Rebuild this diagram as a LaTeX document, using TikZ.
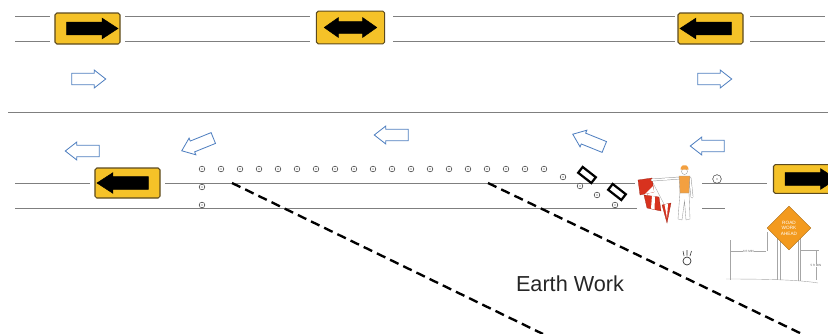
\documentclass[tikz,border=0pt]{standalone}
\usepackage{fontspec}
\setmainfont{Liberation Sans}
\usetikzlibrary{shapes.arrows,shapes.geometric}

\definecolor{signyellow}{HTML}{F5C228}
\definecolor{signedge}{HTML}{5C4A1E}
\definecolor{flowblue}{HTML}{4F7FC0}
\definecolor{roadgray}{HTML}{7F7F7F}
\definecolor{diamondorange}{HTML}{F39A1E}
\definecolor{flagred}{HTML}{D8321E}
\definecolor{vestorange}{HTML}{F3A040}

\tikzset{
  road/.style={draw=roadgray, line width=0.6pt},
  yellowsign/.style={rectangle, rounded corners=1.5pt, draw=signedge, fill=signyellow, line width=0.9pt,
    minimum width=1.95cm, minimum height=0.93cm, inner sep=0pt},
  signarrow/.style={single arrow, fill=black, draw=black, line width=0.4pt, minimum height=1.54cm,
    minimum width=0.62cm, inner sep=0.15cm, single arrow tip angle=66, single arrow head extend=0.1cm},
  bothways/.style={double arrow, fill=black, draw=black, line width=0.4pt, minimum height=1.58cm,
    minimum width=0.6cm, inner sep=0.13cm, double arrow tip angle=70, double arrow head extend=0.1cm},
  flow/.style={single arrow, draw=flowblue, fill=white, line width=0.7pt, minimum height=1.02cm,
    minimum width=0.54cm, inner sep=0.135cm, single arrow tip angle=76, single arrow head extend=0.08cm},
  cone/.style={circle, draw=black!75, fill=white, line width=0.45pt, minimum size=0.17cm, inner sep=0pt},
  barricade/.style={rectangle, draw=black, fill=white, line width=1.9pt, minimum width=0.5cm,
    minimum height=0.22cm, inner sep=0pt},
  workline/.style={draw=black, line width=2pt, dash pattern=on 8pt off 4.5pt},
  dimline/.style={draw=gray!70, line width=0.35pt},
  tinytext/.style={font=\fontsize{2.6}{3}\selectfont, text=gray!80!black, fill=white, inner sep=0.4pt},
}

\begin{document}
\begin{tikzpicture}[x=0.03cm, y=-0.03cm]
    \useasboundingbox (0,0) rectangle (828,334);
    \clip (0,0) rectangle (828,334);

    % lane lines
    \foreach \y in {16,41} {
        \draw[road] (15,\y) -- (50,\y);
        \draw[road] (125,\y) -- (310,\y);
        \draw[road] (393,\y) -- (675,\y);
        \draw[road] (750,\y) -- (825,\y);
    }
    \draw[road] (8,112) -- (828,112);
    \draw[road] (15,183) -- (90,183);
    \draw[road] (165,183) -- (635,183);
    \draw[road] (702,183) -- (767,183);
    \draw[road] (15,208) -- (637,208);
    \draw[road] (702,208) -- (725,208);

    % work zone edges
    \coordinate (w1a) at (232,183);
    \coordinate (w1b) at (543,334);
    \coordinate (w2a) at (488,183);
    \coordinate (w2b) at (802,334);
    \draw[workline] (w1a) -- (w1b);
    \draw[workline] (w2a) -- (w2b);
    \node[font=\fontsize{18.5}{22}\selectfont, text=black!85] (earth) at (570,284) {Earth Work};

    % arrow boards
    \node[yellowsign] (s1) at (87.5,28.5) {};
    \node[signarrow] (a1) at (s1) {};
    \node[yellowsign, minimum width=2.05cm, minimum height=0.98cm] (s2) at (350.5,27.5) {};
    \node[bothways] (a2) at (s2) {};
    \node[yellowsign] (s3) at (710.5,28.5) {};
    \node[signarrow, rotate=180] (a3) at (s3) {};
    \node[yellowsign, minimum height=0.9cm] (s4) at (127.5,183) {};
    \node[signarrow, rotate=180] (a4) at (s4) {};
    \node[yellowsign, minimum height=0.86cm] (s5) at (806,179) {};
    \node[signarrow] (a5) at (s5) {};

    % traffic flow
    \node[flow] (f1) at (85,79) {};
    \node[flow] (f2) at (711,79) {};
    \node[flow, rotate=180] (f3) at (86,151) {};
    \node[flow, rotate=202] (f4) at (201,143) {};
    \node[flow, rotate=180] (f5) at (395,135) {};
    \node[flow, rotate=158] (f6) at (592,142) {};
    \node[flow, rotate=180] (f7) at (711,146) {};

    % channelizing devices
    \foreach \i in {0,...,18} {
        \node[cone] (r\i) at ({202+19*\i},169) {};
        \fill[black!75] (r\i) circle (0.5pt);
    }
    \foreach \p [count=\i] in {(202,187),(202,205),(563,177),(580,186),(597,195),(615,205)} {
        \node[cone] (t\i) at \p {};
        \fill[black!75] (t\i) circle (0.5pt);
    }
    \node[cone, minimum size=0.26cm] (beacon) at (717,179) {};
    \fill[black!75] (beacon) circle (0.6pt);
    \node[barricade, rotate=-38] (b1) at (587,175) {};
    \node[barricade, rotate=-38] (b2) at (617,192) {};

    % flagger
    \draw[gray!70, line width=0.3pt] (652,181) -- (647,196) (652,181) -- (664,204);
    \filldraw[fill=flagred, draw=flagred!70!black, line width=0.2pt] (638,180) -- (652,178) -- (654,192) -- (640,195) -- cycle;
    \fill[white] (645,194) -- (654,192) -- (653,186) -- cycle;
    \filldraw[fill=flagred, draw=flagred!70!black, line width=0.2pt] (644,195) -- (659,197) -- (661,211) -- (647,208) -- cycle;
    \fill[white] (652,196) -- (655,196.5) -- (654.5,209.5) -- (651,208.5) -- cycle;
    \filldraw[fill=flagred, draw=flagred!70!black, line width=0.2pt] (662,205) -- (671,203) -- (667,223) -- cycle;
    \fill[white] (664.5,204.5) -- (668,203.8) -- (667,218) -- cycle;
    \draw[gray!80, line width=2.2pt, line cap=round] (680,178) -- (652,180);
    \draw[white, line width=1.4pt, line cap=round] (680,178) -- (652,180);
    \filldraw[fill=white, draw=gray!80, line width=0.3pt]
        (680,192) -- (678,219) -- (682,220) -- (684.5,201) -- (686,220) -- (690,219) -- (689,192) -- cycle;
    \draw[gray!80, line width=2.2pt, line cap=round] (690,178) -- (692,197);
    \draw[white, line width=1.4pt, line cap=round] (690,178) -- (692,197);
    \filldraw[fill=vestorange, draw=gray!80, line width=0.3pt] (679,176) -- (690,176) -- (689,193) -- (680,193) -- cycle;
    \filldraw[fill=white, draw=gray!80, line width=0.3pt] (684.5,171.5) circle (3);
    \fill[vestorange] (680.5,169.5) -- (681,167) -- (682.8,165.3) -- (686.2,165.3) -- (688,167) -- (688.5,169.5) -- cycle;

    % warning light
    \node[circle, draw=black!80, line width=0.6pt, minimum size=0.24cm, inner sep=0pt] (lamp) at (687,261) {};
    \draw[black!80, line width=0.5pt] (684,256) -- (683,251) (687,255.5) -- (687,250) (690,256) -- (691.5,251);

    % sign assembly
    \draw[dimline] (777,226) -- (777,280) (780,226) -- (780,280);
    \draw[dimline] (798,226) -- (798,281) (800,226) -- (800,281);
    \node[diamond, draw=diamondorange!70!black, fill=diamondorange, line width=0.4pt, minimum width=1.32cm,
        minimum height=1.32cm, inner sep=0pt, align=center, text=white,
        font=\fontsize{4}{4.6}\selectfont] (warn) at (789,228) {ROAD\\WORK\\AHEAD};
    \draw[dimline] (730,240) -- (730,280);
    \draw[dimline] (767,232) -- (767,251);
    \draw[dimline] (731,251) -- (766,251) node[tinytext, midway] (lat) {6 ft MIN};
    \draw[dimline] (801,250) -- (819,250);
    \draw[dimline] (816,251) -- (816,280) node[tinytext, midway] (vert) {5 ft MIN};
    \draw[dimline] (726,279) .. controls (770,279) and (800,280) .. (818,283);
\end{tikzpicture}
\end{document}
